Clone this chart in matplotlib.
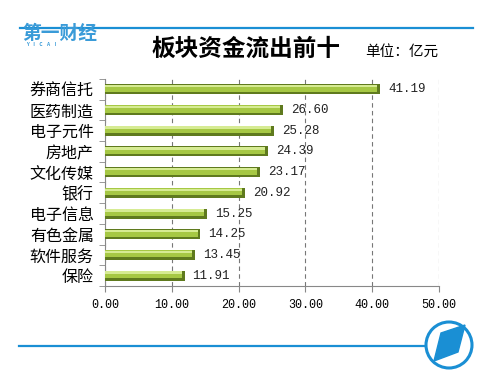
import numpy as np
import matplotlib.pyplot as plt
from matplotlib.patches import Circle, Polygon
from matplotlib.lines import Line2D

plt.rcParams['font.family'] = ['Noto Sans CJK SC', 'DejaVu Sans']

# data
sectors = ['券商信托', '医药制造', '电子元件', '房地产', '文化传媒',
           '银行', '电子信息', '有色金属', '软件服务', '保险']
outflow = [41.19, 26.60, 25.28, 24.39, 23.17, 20.92, 15.25, 14.25, 13.45, 11.91]
xticks = [0, 10, 20, 30, 40, 50]

W, H = 500, 386
fig = plt.figure(figsize=(W / 100, H / 100), dpi=100)
ax = fig.add_axes([105 / W, 1 - 286 / H, (439 - 105) / W, (286 - 79) / H])

y = np.arange(len(sectors))
vals = np.array(outflow)
# base (shadow) bar and lighter parts on top for a bevelled look
ax.barh(y, vals, height=0.48, color='#5f7a1e', zorder=3)
ax.barh(y - 0.05, vals - 0.4, height=0.34, color='#a6c844', zorder=4)
ax.barh(y - 0.15, vals - 0.4, height=0.12, color='#d6eb93', zorder=5)

for yi, v in zip(y, outflow):
    ax.text(v + 1.2, yi, '%.2f' % v, va='center', ha='left', fontsize=9,
            family=['Liberation Mono', 'DejaVu Sans Mono'], color='#222222', zorder=6)

ax.set_xlim(0, 50)
ax.set_ylim(len(sectors) - 0.5, -0.5)
ax.set_xticks(xticks)
ax.set_xticklabels(['%.2f' % t for t in xticks], family=['Liberation Mono', 'DejaVu Sans Mono'],
                   fontsize=8.5)
ax.set_yticks(y)
ax.set_yticklabels(sectors, fontsize=11.5)
ax.set_yticks(np.arange(-0.5, len(sectors)), minor=True)
ax.tick_params(axis='y', which='major', length=0, pad=8)
ax.tick_params(axis='y', which='minor', length=4, color='#888888', direction='out')
ax.tick_params(axis='x', length=4, color='#888888', direction='out', pad=5)
ax.grid(axis='x', linestyle=(0, (4, 3)), color='#777777', linewidth=0.8, zorder=0)
for s in ['top', 'right']:
    ax.spines[s].set_visible(False)
for s in ['left', 'bottom']:
    ax.spines[s].set_color('#888888')

# header
fig.add_artist(Line2D([20 / W, 473 / W], [1 - 28 / H, 1 - 28 / H], color='#1a8fd4', lw=1.6))
fig.text(22 / W, 1 - 33 / H, '第一财经', fontsize=13.5, color='#3a9bd8', weight='bold',
         va='center', ha='left')
fig.text(26 / W, 1 - 45 / H, 'Y    I    C    A    I', fontsize=3.5, color='#3a9bd8',
         va='center', ha='left', weight='bold')
fig.text(246 / W, 1 - 49 / H, '板块资金流出前十', fontsize=17, weight='bold',
         va='center', ha='center')
fig.text(365 / W, 1 - 52 / H, '单位：亿元', fontsize=10.5, va='center', ha='left')

# footer
fig.add_artist(Line2D([19 / W, 425 / W], [1 - 346 / H, 1 - 346 / H], color='#1a8fd4', lw=1.6))
fig.add_artist(Circle((449, H - 345), 23, transform=None, fill=False,
                      edgecolor='#1a8fd4', lw=2.2))
pts = [(441, H - 333), (465, H - 325), (458, H - 352), (434, H - 361)]
fig.add_artist(Polygon(pts, closed=True, transform=None, color='#1a8fd4'))

fig.savefig('out.png', dpi=100)
